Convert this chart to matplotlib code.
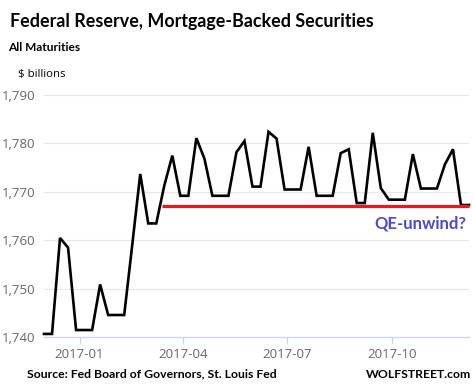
import matplotlib
matplotlib.use("Agg")
import matplotlib.pyplot as plt
import pandas as pd

# ---------------- data ----------------
start_date = "2016-12-01"
mbs_billions = [1740.7, 1740.7, 1760.5, 1758.5, 1741.5, 1741.5, 1741.5, 1750.9,
                1744.6, 1744.6, 1744.6, 1759.0, 1773.7, 1763.5, 1763.5, 1771.3,
                1777.5, 1769.2, 1769.2, 1781.1, 1776.9, 1769.2, 1769.2, 1769.2,
                1778.2, 1780.5, 1771.1, 1771.1, 1782.4, 1781.0, 1770.5, 1770.5,
                1770.5, 1779.3, 1769.2, 1769.2, 1769.2, 1778.0, 1778.8, 1767.7,
                1767.7, 1782.2, 1770.8, 1768.4, 1768.4, 1768.4, 1777.8, 1770.7,
                1770.7, 1770.7, 1775.7, 1778.8, 1767.3, 1767.3]
unwind_start = "2017-03-14"
unwind_level = 1767.0
y_ticks = [1740, 1750, 1760, 1770, 1780, 1790]
x_tick_dates = ["2017-01-01", "2017-04-01", "2017-07-01", "2017-10-01"]
x_tick_labels = ["2017-01", "2017-04", "2017-07", "2017-10"]

dates = pd.date_range(start_date, periods=len(mbs_billions), freq="7D")

# ---------------- figure ----------------
W, H = 476, 392
fig = plt.figure(figsize=(W / 100, H / 100), dpi=100)
fig.patch.set_facecolor("white")

def fx(px):
    return px / W

def fy(py):
    return 1 - py / H

ax_left, ax_right, ax_top, ax_bottom = 44, 469, 95, 337.3
ax = fig.add_axes([fx(ax_left), fy(ax_bottom), (ax_right - ax_left) / W, (ax_bottom - ax_top) / H])

ax.plot(dates, mbs_billions, color="black", lw=1.9, solid_joinstyle="miter", zorder=3, clip_on=False)
ax.plot([pd.Timestamp(unwind_start), dates[-1]], [unwind_level, unwind_level],
        color="#e8191f", lw=2.3, zorder=4, solid_capstyle="butt", clip_on=False)

ax.set_xlim(dates[0], dates[-1])
ax.set_ylim(1740, 1790)
ax.set_yticks(y_ticks)
ax.set_yticklabels([f"{v:,}" for v in y_ticks])
ax.set_xticks([pd.Timestamp(d) for d in x_tick_dates])
ax.set_xticklabels(x_tick_labels)

ax.grid(axis="y", color="#e6e6e6", lw=0.8)
ax.set_axisbelow(True)
for s in ["top", "right", "left"]:
    ax.spines[s].set_visible(False)
ax.spines["bottom"].set_color("#ccd6eb")
ax.spines["bottom"].set_linewidth(0.9)
ax.tick_params(axis="y", length=0, pad=6, labelsize=9.5, labelcolor="#666666")
ax.tick_params(axis="x", length=5, width=0.9, color="#ccd6eb", pad=3,
               labelsize=9.5, labelcolor="#666666")
for lab in ax.get_xticklabels() + ax.get_yticklabels():
    lab.set_family("Open Sans")

# ---------------- texts ----------------
fig.text(fx(10), fy(26.7), "Federal Reserve, Mortgage-Backed Securities",
         family="Lato", weight="bold", fontsize=12.9, color="black", va="baseline", ha="left")
fig.text(fx(8), fy(50.7), "All Maturities",
         family="Lato", weight="bold", fontsize=8.6, color="black", va="baseline", ha="left")
fig.text(fx(18), fy(76.5), "$ billions",
         family="Open Sans", fontsize=8.2, color="black", va="baseline", ha="left")
fig.text(fx(466.7), fy(228.3), "QE-unwind?",
         family="Lato", weight="bold", fontsize=12, color="#4b4bc8", va="baseline", ha="right")
fig.text(fx(26.7), fy(377.5), "Source: Fed Board of Governors, St. Louis Fed",
         family="Lato", weight="bold", fontsize=8.8, color="black", va="baseline", ha="left")
fig.text(fx(470.7), fy(377.5), "WOLFSTREET.com",
         family="Lato", weight="bold", fontsize=8.8, color="black", va="baseline", ha="right")

fig.savefig("out.png", dpi=100, facecolor="white")
